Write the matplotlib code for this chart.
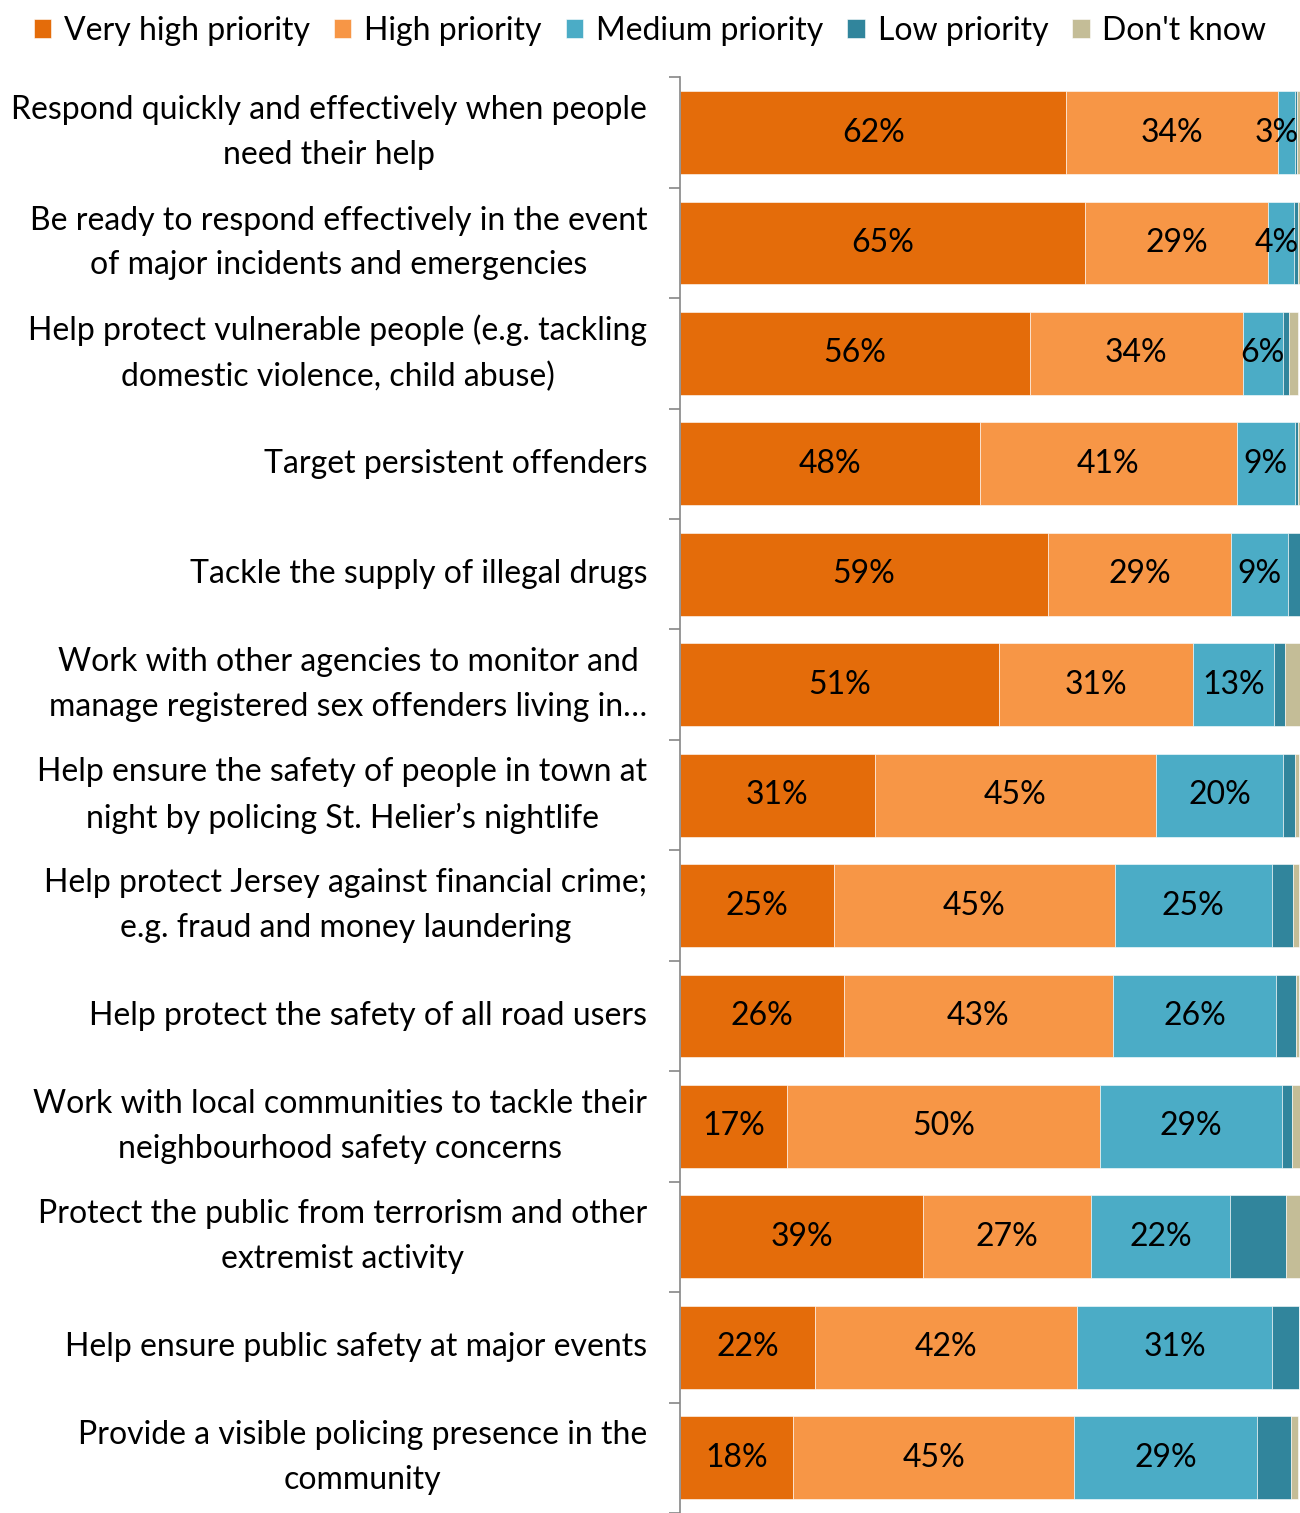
import matplotlib.pyplot as plt
import numpy as np

plt.rcParams["font.family"] = ["Lato", "DejaVu Sans"]

categories = [
    "Respond quickly and effectively when people\nneed their help",
    "Be ready to respond effectively in the event\nof major incidents and emergencies",
    "Help protect vulnerable people (e.g. tackling\ndomestic violence, child abuse)",
    "Target persistent offenders",
    "Tackle the supply of illegal drugs",
    "Work with other agencies to monitor and\nmanage registered sex offenders living in\u2026",
    "Help ensure the safety of people in town at\nnight by policing St. Helier\u2019s nightlife",
    "Help protect Jersey against financial crime;\ne.g. fraud and money laundering",
    "Help protect the safety of all road users",
    "Work with local communities to tackle their\nneighbourhood safety concerns",
    "Protect the public from terrorism and other\nextremist activity",
    "Help ensure public safety at major events",
    "Provide a visible policing presence in the\ncommunity",
]

series_names = ["Very high priority", "High priority", "Medium priority",
                "Low priority", "Don't know"]
series_colors = ["#E46C0A", "#F79646", "#4BACC6", "#31859C", "#C4BD97"]

very_high = [62.3, 65.4, 56.4, 48.4, 59.4, 51.4, 31.4, 24.8, 26.4, 17.3, 39.2, 21.8, 18.2]
high = [34.2, 29.4, 34.4, 41.4, 29.4, 31.4, 45.4, 45.3, 43.4, 50.4, 27.1, 42.3, 45.4]
medium = [2.7, 4.3, 6.4, 9.4, 9.2, 13.0, 20.4, 25.4, 26.4, 29.4, 22.4, 31.4, 29.4]
low = [0.3, 0.5, 1.0, 0.4, 2.0, 1.7, 2.0, 3.4, 3.2, 1.6, 9.1, 4.3, 5.5]
dont_know = [0.5, 0.4, 1.4, 0.4, 0.0, 2.5, 0.6, 0.9, 0.4, 1.3, 2.2, 0.0, 1.2]

series = [very_high, high, medium, low, dont_know]
labelled = [True, True, True, False, False]

FONT = 23
W, H = 1300, 1513
fig = plt.figure(figsize=(W / 100, H / 100), dpi=100)
row_px = 111.2
top_px = 77.3
ax = fig.add_axes([680 / W, 0, 620 / W, 1 - top_px / H])

y = np.arange(len(categories))
left = np.zeros(len(categories))
for name, vals, color, show in zip(series_names, series, series_colors, labelled):
    vals = np.array(vals)
    ax.barh(y, vals, left=left, height=0.75, color=color, label=name,
            edgecolor="white", linewidth=0.4)
    if show:
        for yi, l, v in zip(y, left, vals):
            x = l + v / 2
            ha = "center"
            # narrow segments at the right end get their label pulled inside
            if x + 3.5 > 100:
                x, ha = 99.8, "right"
            ax.text(x, yi, f"{round(v)}%", ha=ha, va="center",
                    fontsize=FONT, color="black")
    left += vals

ax.set_xlim(0, 100)
ax.set_ylim(len(categories) - 1 + (H - 1467) / row_px, -0.5)

for yi, cat in zip(y, categories):
    ax.text(-0.053, yi, cat, transform=ax.get_yaxis_transform(),
            ha="right", va="center", multialignment="center",
            fontsize=FONT, linespacing=1.62)

for side in ["top", "right", "bottom"]:
    ax.spines[side].set_visible(False)
ax.spines["left"].set_color("#868686")
ax.spines["left"].set_linewidth(1.2)
ax.set_xticks([])
ax.set_yticks([])
ax.set_yticks(np.arange(-0.5, len(categories), 1), minor=True)
ax.tick_params(axis="y", which="minor", length=8, width=1.2, color="#868686",
               labelleft=False)

fig.legend(loc="upper center", bbox_to_anchor=(0.5, 1.0), ncol=5,
           frameon=False, fontsize=FONT, handlelength=0.55, handleheight=0.55,
           handletextpad=0.4, columnspacing=0.75, borderaxespad=0.1)

fig.savefig("out.png", dpi=100)
